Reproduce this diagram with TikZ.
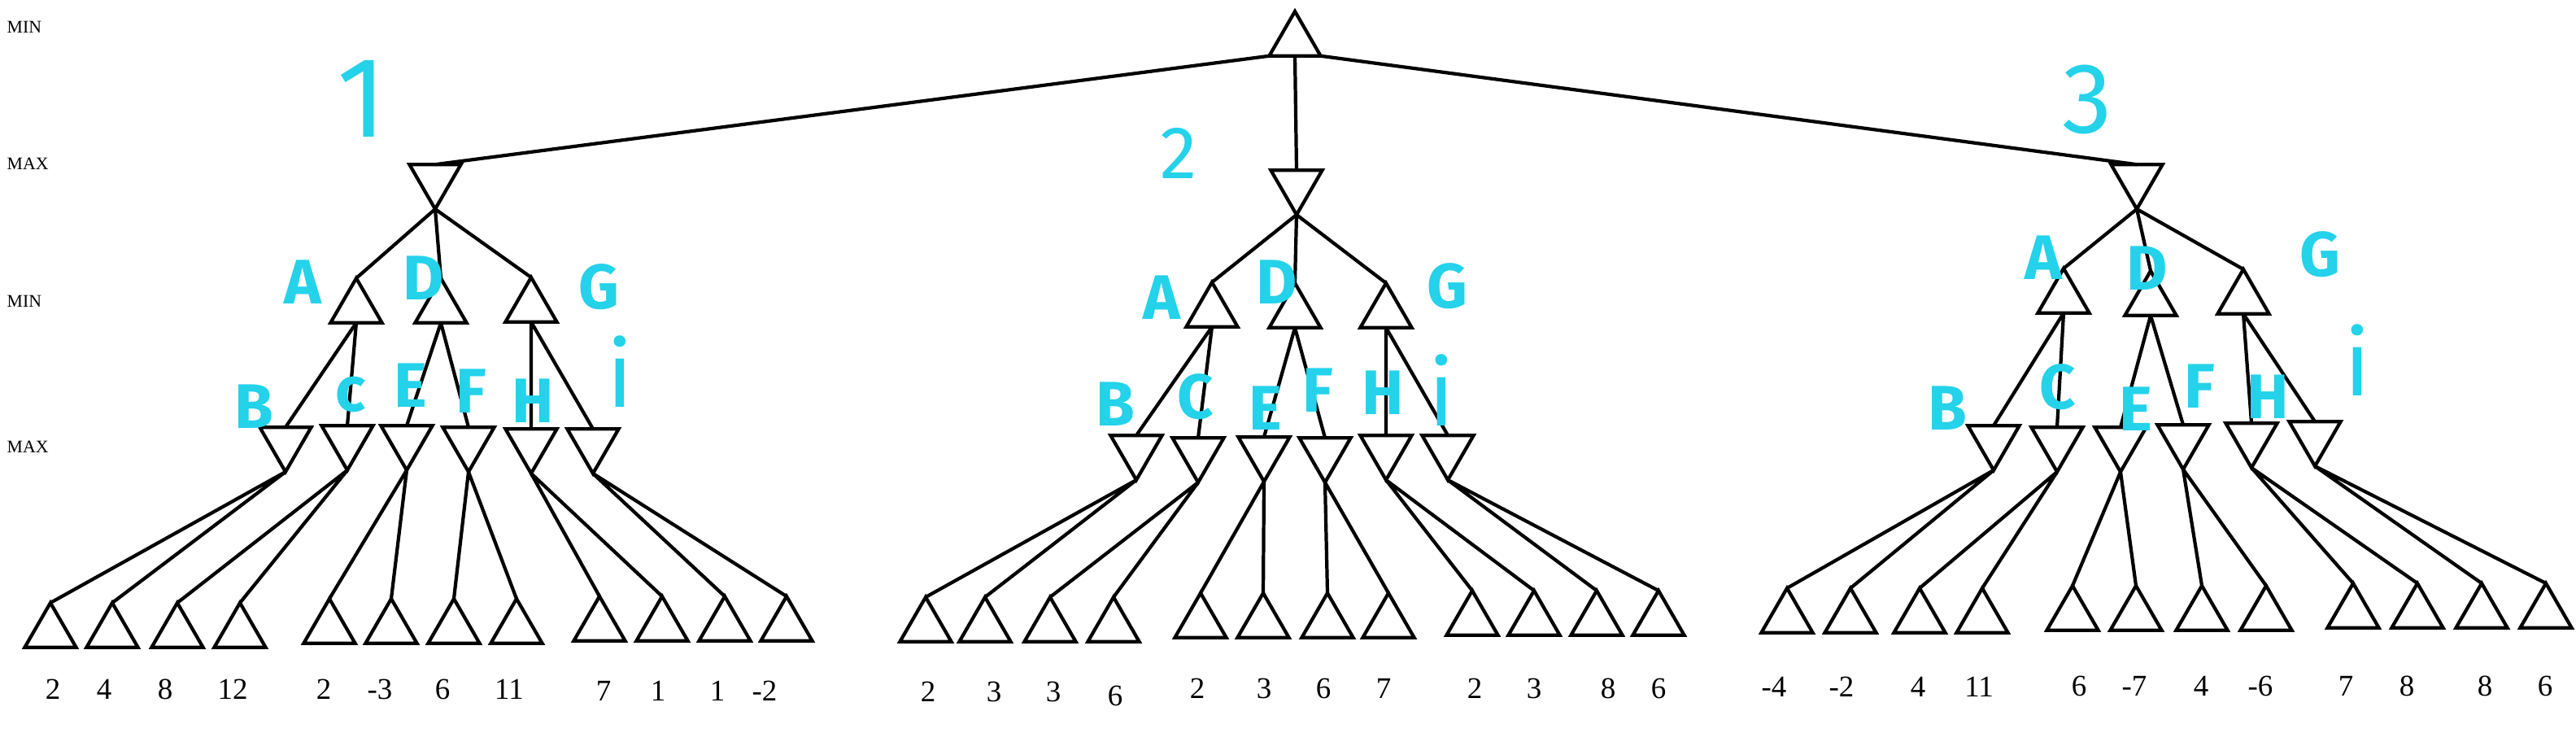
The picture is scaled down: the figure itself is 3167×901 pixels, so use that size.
\documentclass[tikz,border=0pt]{standalone}
\usepackage{fontspec}
\setmainfont{Liberation Serif}
\newfontfamily\handfont{Fira Sans}
\usepackage{xcolor}
\usepackage{tikz}
\usetikzlibrary{shapes.geometric}
\definecolor{handcyan}{RGB}{36, 210, 234}

\begin{document}
\begin{tikzpicture}[
    x = 0.01cm, y = -0.01cm,
    tri/.style = {
        regular polygon, regular polygon sides=3,
        draw=black, line width=1.2pt,
        minimum size=0.73cm, inner sep=0pt, outer sep=0pt,
        anchor=corner 1
    },
    minnode/.style = {tri},
    maxnode/.style = {tri, shape border rotate=180},
    link/.style = {black, line width=1.2pt},
    rowlabel/.style = {anchor=west, inner sep=0pt, font=\fontsize{6.2}{7}\selectfont},
    score/.style = {inner sep=0pt, font=\fontsize{10.5}{12}\selectfont},
    hand/.style = {inner sep=0pt, text=handcyan, font=\handfont\bfseries\fontsize{22}{24}\selectfont},
    treeno/.style = {hand, font=\handfont\fontsize{34}{36}\selectfont},
    handi/.style = {hand, font=\handfont\fontsize{32}{34}\selectfont},
]
\useasboundingbox (0,0) rectangle (3167,901);

% Row labels
\node[rowlabel] (row1) at (8,33)  {MIN};
\node[rowlabel] (row2) at (8,201) {MAX};
\node[rowlabel] (row3) at (8,370) {MIN};
\node[rowlabel] (row4) at (8,549) {MAX};

% Root and first MAX row
\node[minnode] (root) at (1592,14) {};
\node[maxnode] (m1) at (535,257) {};
\node[maxnode] (m2) at (1594,264) {};
\node[maxnode] (m3) at (2627,257) {};

% Second row: A, D, G
\node[minnode] (a1) at (438,342) {};
\node[minnode] (d1) at (542,342) {};
\node[minnode] (g1) at (653,341) {};
\node[minnode] (a2) at (1490,347) {};
\node[minnode] (d2) at (1592,348) {};
\node[minnode] (g2) at (1704,348) {};
\node[minnode] (a3) at (2537,330) {};
\node[minnode] (d3) at (2644,333) {};
\node[minnode] (g3) at (2758,331) {};

% Third row: B, C, E, F, H, I
\node[maxnode] (b1) at (351,580) {};
\node[maxnode] (c1) at (427,578) {};
\node[maxnode] (e1) at (500,578) {};
\node[maxnode] (f1) at (576,580) {};
\node[maxnode] (h1) at (653,582) {};
\node[maxnode] (i1) at (729,582) {};
\node[maxnode] (b2) at (1397,590) {};
\node[maxnode] (c2) at (1473,593) {};
\node[maxnode] (e2) at (1554,592) {};
\node[maxnode] (f2) at (1629,593) {};
\node[maxnode] (h2) at (1704,590) {};
\node[maxnode] (i2) at (1780,590) {};
\node[maxnode] (b3) at (2451,578) {};
\node[maxnode] (c3) at (2529,580) {};
\node[maxnode] (e3) at (2607,580) {};
\node[maxnode] (f3) at (2684,577) {};
\node[maxnode] (h3) at (2768,575) {};
\node[maxnode] (i3) at (2846,573) {};

% Leaves, tree 1
\node[minnode] (b1l) at (62,741)  {};
\node[minnode] (b1r) at (138,741) {};
\node[minnode] (c1l) at (218,741) {};
\node[minnode] (c1r) at (295,741) {};
\node[minnode] (e1l) at (405,736) {};
\node[minnode] (e1r) at (481,736) {};
\node[minnode] (f1l) at (558,736) {};
\node[minnode] (f1r) at (635,736) {};
\node[minnode] (h1l) at (737,733) {};
\node[minnode] (h1r) at (814,733) {};
\node[minnode] (i1l) at (891,733) {};
\node[minnode] (i1r) at (967,733) {};

% Leaves, tree 2
\node[minnode] (b2l) at (1138,734) {};
\node[minnode] (b2r) at (1211,734) {};
\node[minnode] (c2l) at (1291,734) {};
\node[minnode] (c2r) at (1369,734) {};
\node[minnode] (e2l) at (1476,729) {};
\node[minnode] (e2r) at (1553,729) {};
\node[minnode] (f2l) at (1632,729) {};
\node[minnode] (f2r) at (1707,729) {};
\node[minnode] (h2l) at (1810,726) {};
\node[minnode] (h2r) at (1886,726) {};
\node[minnode] (i2l) at (1963,726) {};
\node[minnode] (i2r) at (2039,726) {};

% Leaves, tree 3
\node[minnode] (b3l) at (2197,723) {};
\node[minnode] (b3r) at (2275,723) {};
\node[minnode] (c3l) at (2360,723) {};
\node[minnode] (c3r) at (2437,723) {};
\node[minnode] (e3l) at (2548,720) {};
\node[minnode] (e3r) at (2626,720) {};
\node[minnode] (f3l) at (2707,720) {};
\node[minnode] (f3r) at (2786,720) {};
\node[minnode] (h3l) at (2893,717) {};
\node[minnode] (h3r) at (2972,717) {};
\node[minnode] (i3l) at (3051,717) {};
\node[minnode] (i3r) at (3130,717) {};

% Scores
\node[score] (vb1l) at (65,847)  {2};
\node[score] (vb1r) at (128,847) {4};
\node[score] (vc1l) at (203,847) {8};
\node[score] (vc1r) at (286,847) {12};
\node[score] (ve1l) at (398,847) {2};
\node[score] (ve1r) at (467,847) {-3};
\node[score] (vf1l) at (544,847) {6};
\node[score] (vf1r) at (626,847) {11};
\node[score] (vh1l) at (742,849) {7};
\node[score] (vh1r) at (809,849) {1};
\node[score] (vi1l) at (882,849) {1};
\node[score] (vi1r) at (940,849) {-2};
\node[score] (vb2l) at (1141,850) {2};
\node[score] (vb2r) at (1222,850) {3};
\node[score] (vc2l) at (1295,850) {3};
\node[score] (vc2r) at (1371,855) {6};
\node[score] (ve2l) at (1472,846) {2};
\node[score] (ve2r) at (1554,846) {3};
\node[score] (vf2l) at (1627,846) {6};
\node[score] (vf2r) at (1701,846) {7};
\node[score] (vh2l) at (1813,846) {2};
\node[score] (vh2r) at (1886,846) {3};
\node[score] (vi2l) at (1977,846) {8};
\node[score] (vi2r) at (2039,846) {6};
\node[score] (vb3l) at (2181,844) {-4};
\node[score] (vb3r) at (2264,844) {-2};
\node[score] (vc3l) at (2358,844) {4};
\node[score] (vc3r) at (2433,844) {11};
\node[score] (ve3l) at (2556,843) {6};
\node[score] (ve3r) at (2624,843) {-7};
\node[score] (vf3l) at (2706,843) {4};
\node[score] (vf3r) at (2779,843) {-6};
\node[score] (vh3l) at (2884,843) {7};
\node[score] (vh3r) at (2959,843) {8};
\node[score] (vi3l) at (3055,843) {8};
\node[score] (vi3r) at (3129,843) {6};

% Links from the root
\draw[link] (root.corner 2) -- (m1.side 2);
\draw[link] (root.side 2)   -- (m2.side 2);
\draw[link] (root.corner 3) -- (m3.side 2);

% Links, tree 1
\draw[link] (m1.corner 1) -- (a1.corner 1) (m1.corner 1) -- (d1.corner 1) (m1.corner 1) -- (g1.corner 1);
\draw[link] (a1.side 2) -- (b1.side 2) (a1.side 2) -- (c1.side 2);
\draw[link] (d1.side 2) -- (e1.side 2) (d1.side 2) -- (f1.side 2);
\draw[link] (g1.side 2) -- (h1.side 2) (g1.side 2) -- (i1.side 2);
\draw[link] (b1.corner 1) -- (b1l.corner 1) (b1.corner 1) -- (b1r.corner 1);
\draw[link] (c1.corner 1) -- (c1l.corner 1) (c1.corner 1) -- (c1r.corner 1);
\draw[link] (e1.corner 1) -- (e1l.corner 1) (e1.corner 1) -- (e1r.corner 1);
\draw[link] (f1.corner 1) -- (f1l.corner 1) (f1.corner 1) -- (f1r.corner 1);
\draw[link] (h1.corner 1) -- (h1l.corner 1) (h1.corner 1) -- (h1r.corner 1);
\draw[link] (i1.corner 1) -- (i1l.corner 1) (i1.corner 1) -- (i1r.corner 1);

% Links, tree 2
\draw[link] (m2.corner 1) -- (a2.corner 1) (m2.corner 1) -- (d2.corner 1) (m2.corner 1) -- (g2.corner 1);
\draw[link] (a2.side 2) -- (b2.side 2) (a2.side 2) -- (c2.side 2);
\draw[link] (d2.side 2) -- (e2.side 2) (d2.side 2) -- (f2.side 2);
\draw[link] (g2.side 2) -- (h2.side 2) (g2.side 2) -- (i2.side 2);
\draw[link] (b2.corner 1) -- (b2l.corner 1) (b2.corner 1) -- (b2r.corner 1);
\draw[link] (c2.corner 1) -- (c2l.corner 1) (c2.corner 1) -- (c2r.corner 1);
\draw[link] (e2.corner 1) -- (e2l.corner 1) (e2.corner 1) -- (e2r.corner 1);
\draw[link] (f2.corner 1) -- (f2l.corner 1) (f2.corner 1) -- (f2r.corner 1);
\draw[link] (h2.corner 1) -- (h2l.corner 1) (h2.corner 1) -- (h2r.corner 1);
\draw[link] (i2.corner 1) -- (i2l.corner 1) (i2.corner 1) -- (i2r.corner 1);

% Links, tree 3
\draw[link] (m3.corner 1) -- (a3.corner 1) (m3.corner 1) -- (d3.corner 1) (m3.corner 1) -- (g3.corner 1);
\draw[link] (a3.side 2) -- (b3.side 2) (a3.side 2) -- (c3.side 2);
\draw[link] (d3.side 2) -- (e3.side 2) (d3.side 2) -- (f3.side 2);
\draw[link] (g3.side 2) -- (h3.side 2) (g3.side 2) -- (i3.side 2);
\draw[link] (b3.corner 1) -- (b3l.corner 1) (b3.corner 1) -- (b3r.corner 1);
\draw[link] (c3.corner 1) -- (c3l.corner 1) (c3.corner 1) -- (c3r.corner 1);
\draw[link] (e3.corner 1) -- (e3l.corner 1) (e3.corner 1) -- (e3r.corner 1);
\draw[link] (f3.corner 1) -- (f3l.corner 1) (f3.corner 1) -- (f3r.corner 1);
\draw[link] (h3.corner 1) -- (h3l.corner 1) (h3.corner 1) -- (h3r.corner 1);
\draw[link] (i3.corner 1) -- (i3l.corner 1) (i3.corner 1) -- (i3r.corner 1);

% Hand-written labels
\node[treeno, font=\handfont\fontsize{40}{42}\selectfont] (t1) at (445,121) {1};
\node[treeno, font=\handfont\fontsize{26}{28}\selectfont] (t2) at (1449,188) {2};
\node[treeno, font=\handfont\fontsize{35}{37}\selectfont] (t3) at (2566,122) {3};

\node[hand] (la1) at (372,347) {A};
\node[hand] (ld1) at (521,342) {D};
\node[hand] (lg1) at (736,353) {G};
\node[hand] (lb1) at (312,500) {B};
\node[hand] (lc1) at (431,485) {c};
\node[hand] (le1) at (505,474) {E};
\node[hand] (lf1) at (579,481) {F};
\node[hand] (lh1) at (655,493) {H};
\node[handi] (li1) at (762,457) {i};

\node[hand] (la2) at (1428,366) {A};
\node[hand] (ld2) at (1570,347) {D};
\node[hand] (lg2) at (1779,352) {G};
\node[hand] (lb2) at (1371,497) {B};
\node[hand] (lc2) at (1470,488) {C};
\node[hand] (le2) at (1556,502) {E};
\node[hand] (lf2) at (1620,480) {F};
\node[hand] (lh2) at (1700,483) {H};
\node[handi] (li2) at (1772,480) {i};

\node[hand] (la3) at (2512,317) {A};
\node[hand] (ld3) at (2640,330) {D};
\node[hand] (lg3) at (2852,313) {G};
\node[hand] (lb3) at (2394,502) {B};
\node[hand] (lc3) at (2530,476) {C};
\node[hand] (le3) at (2626,503) {E};
\node[hand] (lf3) at (2704,475) {F};
\node[hand] (lh3) at (2788,488) {H};
\node[handi] (li3) at (2898,443) {i};

\end{tikzpicture}
\end{document}
